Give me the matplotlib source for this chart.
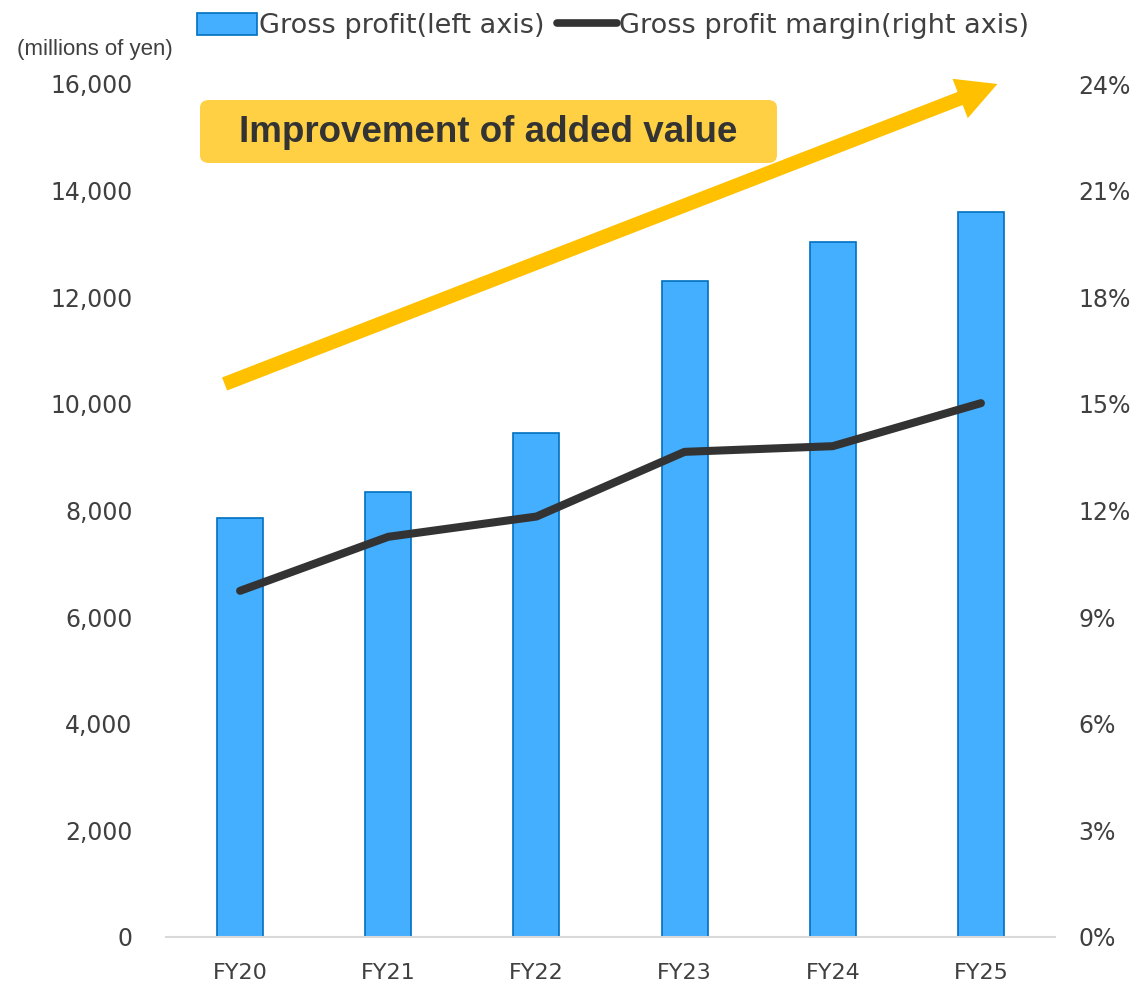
import matplotlib
matplotlib.use("Agg")
import matplotlib.pyplot as plt
from matplotlib.patches import FancyBboxPatch, Patch, FancyArrowPatch
from matplotlib.lines import Line2D
from matplotlib.ticker import FuncFormatter

categories = ["FY20", "FY21", "FY22", "FY23", "FY24", "FY25"]
gross_profit = [7850, 8340, 9450, 12310, 13040, 13600]
gross_margin = [9.74, 11.26, 11.83, 13.65, 13.81, 15.02]
left_ticks = [0, 2000, 4000, 6000, 8000, 10000, 12000, 14000, 16000]
right_ticks = [0, 3, 6, 9, 12, 15, 18, 21, 24]

plt.rcParams['font.family'] = ['DejaVu Sans']
txt = '#404040'

fig = plt.figure(figsize=(11.4, 9.83), dpi=100)
W, H = 1140, 983
ax = fig.add_axes([166 / W, 1 - 937 / H, (1055 - 166) / W, (937 - 84) / H])
ax2 = ax.twinx()

x = list(range(len(categories)))
ax.bar(x, gross_profit, width=0.31, color='#44AEFF', edgecolor='#0070C0', linewidth=1.2, zorder=2)
ax.set_xlim(-0.5, len(categories) - 0.5)
ax.set_ylim(0, 16000)
ax.set_yticks(left_ticks)
ax.yaxis.set_major_formatter(FuncFormatter(lambda v, p: f"{int(v):,}"))
ax.set_xticks(x)
ax.set_xticklabels(categories)

ax2.plot(x, gross_margin, color='#333333', linewidth=5.8, solid_capstyle='round', solid_joinstyle='round', zorder=3)
ax2.set_ylim(0, 24)
ax2.set_yticks(right_ticks)
ax2.set_yticklabels([f"{t}%" for t in right_ticks])

for a in (ax, ax2):
    for s in ['top', 'left', 'right', 'bottom']:
        a.spines[s].set_visible(False)
    a.tick_params(length=0, labelsize=17, colors=txt)
ax.spines['bottom'].set_visible(True)
ax.spines['bottom'].set_color('#D9D9D9')
ax.spines['bottom'].set_linewidth(1.5)
ax.tick_params(axis='y', pad=24)
ax.tick_params(axis='x', pad=19, labelsize=16)
ax2.tick_params(axis='y', pad=17)

# legend
handles = [Patch(facecolor='#44AEFF', edgecolor='#0070C0', linewidth=1.2),
           Line2D([0], [0], color='#333333', linewidth=5.5, solid_capstyle='round')]
labels = ["Gross profit(left axis)", "Gross profit margin(right axis)"]
fig.legend(handles, labels, loc='upper center', bbox_to_anchor=(0.538, 1.012), ncol=2,
           frameon=False, fontsize=19.5, handlelength=2.2, handleheight=0.9,
           handletextpad=0.1, columnspacing=0.45, labelcolor=txt)

fig.text(95 / W, 1 - 50 / H, "(millions of yen)", ha='center', va='center', fontsize=16,
         color=txt, family=['Liberation Sans'])

# arrow
fig.add_artist(FancyArrowPatch(
    (222 / W, 1 - 385 / H), (1000 / W, 1 - 83 / H), transform=fig.transFigure,
    arrowstyle='simple,head_length=1.8,head_width=1.9,tail_width=0.63',
    mutation_scale=16, color='#FFC000', linewidth=0, zorder=5))

# label box
box = FancyBboxPatch((200 / W, 1 - 163 / H), (777 - 200) / W, (163 - 100) / H,
                     boxstyle='round,pad=0,rounding_size=0.008', transform=fig.transFigure,
                     facecolor='#FFD044', edgecolor='none', zorder=6)
fig.add_artist(box)
fig.text(488 / W, 1 - 133 / H, "Improvement of added value", ha='center', va='center',
         fontsize=26.5, fontweight='bold', color='#333333', family=['Liberation Sans'], zorder=7)

fig.savefig('out.png', dpi=100)
